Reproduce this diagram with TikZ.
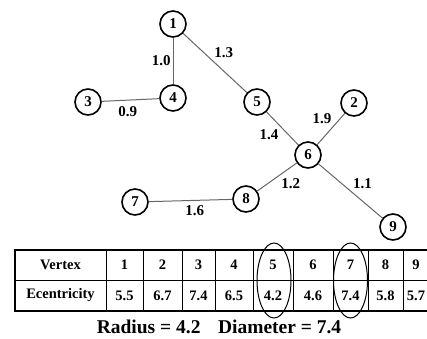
\documentclass[tikz,border=0pt]{standalone}
\usepackage{fontspec}
\setmainfont{Liberation Serif}
\begin{document}
\begin{tikzpicture}[x=1pt, y=-1pt,
    vert/.style={draw, circle, line width=1.6pt, minimum size=26pt, inner sep=0pt, font=\fontsize{15}{17}\selectfont\bfseries},
    edge/.style={draw=black!60, line width=1pt},
    wt/.style={font=\fontsize{15}{17}\selectfont\bfseries, inner sep=2pt},
    cell/.style={font=\fontsize{14.5}{16}\selectfont\bfseries, inner sep=0pt}]
  \useasboundingbox (0,0) rectangle (427,338);
  \clip (0,0) rectangle (427,338);
  % tree
  \node[vert] (n1) at (173,24) {1};
  \node[vert] (n4) at (173,98) {4};
  \node[vert] (n3) at (88,102) {3};
  \node[vert] (n5) at (257,102) {5};
  \node[vert] (n2) at (354,103) {2};
  \node[vert] (n6) at (308,155) {6};
  \node[vert] (n8) at (246,199) {8};
  \node[vert] (n7) at (135,202) {7};
  \node[vert] (n9) at (393,227) {9};
  \draw[edge] (n1) -- node[wt, left] {1.0} (n4);
  \draw[edge] (n1) -- node[wt, above right, pos=.45] {1.3} (n5);
  \draw[edge] (n3) -- node[wt, below=4pt, pos=.45] {0.9} (n4);
  \draw[edge] (n5) -- node[wt, below left, pos=.45] {1.4} (n6);
  \draw[edge] (n6) -- node[wt, above left, pos=.6] {1.9} (n2);
  \draw[edge] (n6) -- node[wt, below right, pos=.45] {1.2} (n8);
  \draw[edge] (n6) -- node[wt, above right] {1.1} (n9);
  \draw[edge] (n7) -- node[wt, below=3pt, pos=.55] {1.6} (n8);
  % table
  \draw[line width=1.6pt] (15,250) rectangle (430,311);
  \draw[line width=0.8pt] (15,280) -- (430,280);
  \foreach \c in {106,143,182,215,253,293,333,368,403}
    \draw[line width=0.8pt] (\c,250) -- (\c,311);
  \node[cell] (vh) at (60.5,265) {Vertex};
  \node[cell] (eh) at (60.5,295.5) {Ecentricity};
  \foreach \x/\v/\e in {124.5/1/5.5, 162.5/2/6.7, 198.5/3/7.4, 234/4/6.5, 273/5/4.2,
                        313/6/4.6, 350.5/7/7.4, 385.5/8/5.8, 416/9/5.7} {
    \node[cell] (v\v) at (\x,265) {\v};
    \node[cell] (e\v) at (\x,295.5) {\e};
  }
  \draw[line width=1pt] (v5.center) ++(1,15.5) ellipse [x radius=17, y radius=37.5];
  \draw[line width=1pt] (v7.center) ++(0,15.5) ellipse [x radius=17, y radius=37.5];
  \node[font=\fontsize{19.5}{21}\selectfont\bfseries] (res) at (219,327) {Radius = 4.2\hspace{0.9em}Diameter = 7.4};
\end{tikzpicture}
\end{document}
